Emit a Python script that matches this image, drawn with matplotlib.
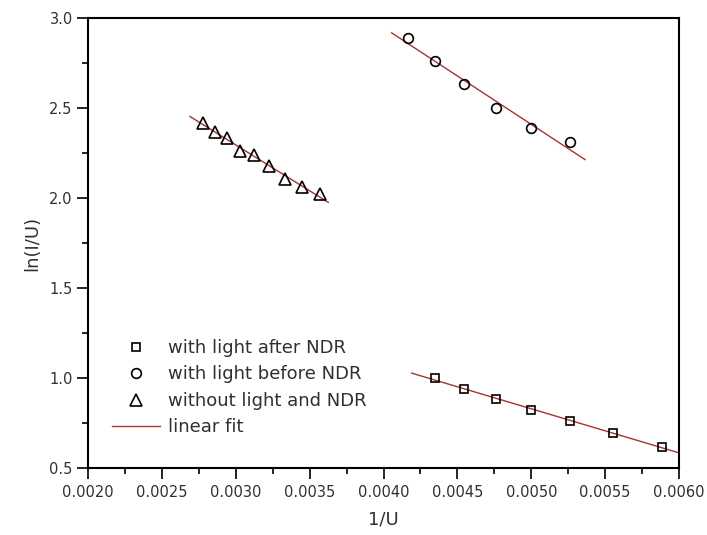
import numpy as np
import matplotlib
matplotlib.use("Agg")
import matplotlib.pyplot as plt
from matplotlib.ticker import MultipleLocator, FormatStrFormatter
from matplotlib.lines import Line2D

# with light after NDR (squares)
x_after = [0.004348, 0.004545, 0.004762, 0.005000, 0.005263, 0.005556, 0.005882]
y_after = [0.998, 0.937, 0.883, 0.824, 0.763, 0.694, 0.617]
fit_after_x = [0.00419, 0.00600]

# with light before NDR (circles)
x_before = [0.004167, 0.004348, 0.004545, 0.004762, 0.005000, 0.005263]
y_before = [2.891, 2.761, 2.632, 2.502, 2.389, 2.309]
fit_before_x = [0.004055, 0.005364]

# without light and NDR (triangles)
x_dark = [0.002778, 0.002857, 0.002941, 0.003030, 0.003125, 0.003226, 0.003333, 0.003448, 0.003571]
y_dark = [2.415, 2.368, 2.332, 2.263, 2.239, 2.179, 2.106, 2.063, 2.021]
fit_dark_x = [0.00269, 0.003626]

labels = ["with light after NDR", "with light before NDR", "without light and NDR", "linear fit"]

text_col = "#303030"
fit_col = "#a83232"

fig = plt.figure(figsize=(7.07, 5.35), dpi=100)
ax = fig.add_axes([0.1245, 0.1252, 0.8359, 0.8412])

mk = dict(linestyle="none", markerfacecolor="none", markeredgecolor="black", markeredgewidth=1.2)
ax.plot(x_after, y_after, marker="s", markersize=6, **mk)
ax.plot(x_before, y_before, marker="o", markersize=7, **mk)
ax.plot(x_dark, y_dark, marker="^", markersize=8, **mk)

for xs, ys, fx in [(x_after, y_after, fit_after_x),
                   (x_before, y_before, fit_before_x),
                   (x_dark, y_dark, fit_dark_x)]:
    p = np.polyfit(xs, ys, 1)
    fx = np.array(fx)
    ax.plot(fx, np.polyval(p, fx), color=fit_col, lw=1.0, zorder=1)

ax.set_xlim(0.0020, 0.0060)
ax.set_ylim(0.5, 3.0)
ax.xaxis.set_major_locator(MultipleLocator(0.0005))
ax.xaxis.set_minor_locator(MultipleLocator(0.00025))
ax.yaxis.set_major_locator(MultipleLocator(0.5))
ax.yaxis.set_minor_locator(MultipleLocator(0.25))
ax.xaxis.set_major_formatter(FormatStrFormatter("%.4f"))
ax.yaxis.set_major_formatter(FormatStrFormatter("%.1f"))

ax.tick_params(which="both", direction="out", width=1.2, colors="black", labelcolor=text_col, labelsize=10.5)
ax.tick_params(which="major", length=8)
ax.tick_params(which="minor", length=4)
ax.tick_params(axis="x", pad=4)
ax.tick_params(axis="y", pad=3)
for s in ax.spines.values():
    s.set_linewidth(1.5)

ax.set_xlabel("1/U", fontsize=13, color=text_col, labelpad=8)
ax.set_ylabel("ln(I/U)", fontsize=13, color=text_col, labelpad=6)

handles = [
    Line2D([], [], marker="s", markersize=6, **mk),
    Line2D([], [], marker="o", markersize=7, **mk),
    Line2D([], [], marker="^", markersize=8, **mk),
    Line2D([], [], color=fit_col, lw=1.0),
]
leg = ax.legend(handles, labels, loc="upper left", bbox_to_anchor=(0.04, 0.287),
                frameon=False, fontsize=13, handlelength=2.7, handletextpad=0.4,
                labelspacing=0.47, borderpad=0, borderaxespad=0)
for t in leg.get_texts():
    t.set_color(text_col)

fig.savefig("out.png", dpi=100)
